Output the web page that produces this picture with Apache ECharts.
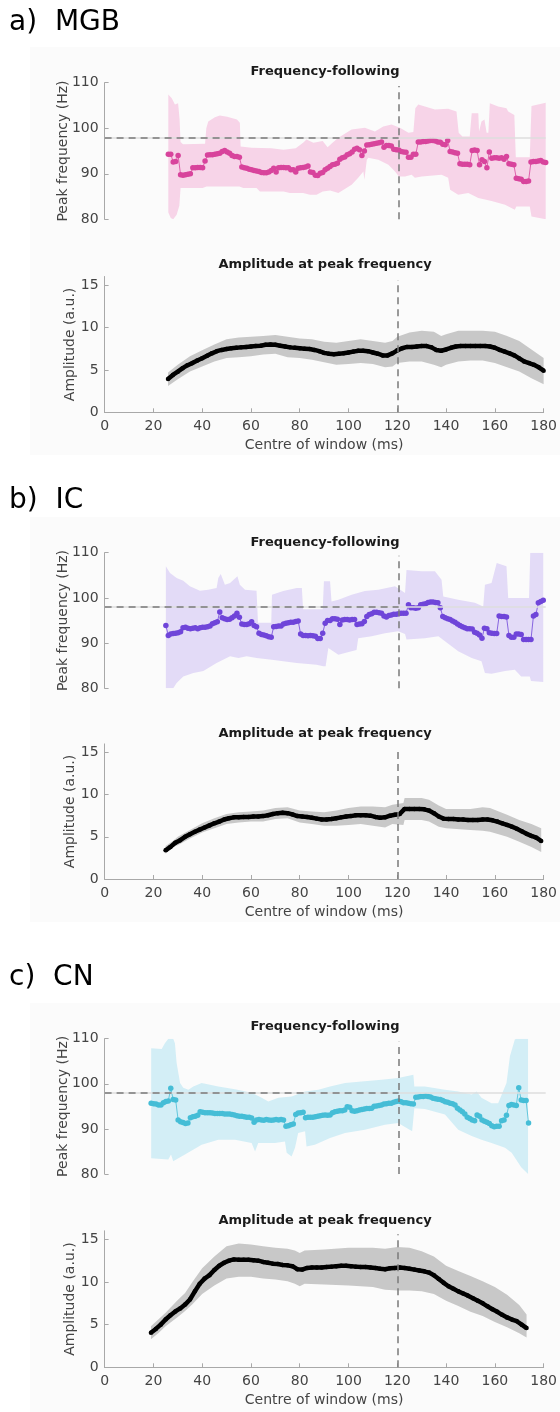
<!DOCTYPE html>
<html><head><meta charset="utf-8">
<script src="https://cdn.jsdelivr.net/npm/echarts@6/dist/echarts.min.js"></script>
<style>html,body{margin:0;padding:0;background:#fff}#c{width:560px;height:1412px}</style>
</head><body><div id="c"></div>
<script>
// ---------------- DATA ----------------
const xTickValues = [0, 20, 40, 60, 80, 100, 120, 140, 160, 180];
const freqTickValues = [80, 90, 100, 110];
const ampTickValues = [0, 5, 10, 15];
const referenceFreq = 98;     // Hz (horizontal dashed line)
const referenceTime = 120;    // ms (vertical dashed line)

// Frequency-following: peak frequency (Hz), one value per ms
const mgbFreqStart = 26;
const mgbFreq = [94.3,94.3,92.6,92.7,94.0,89.8,89.7,89.8,89.9,90.0,
91.3,91.3,91.4,91.4,91.3,92.8,94.1,94.2,94.2,94.3,
94.4,94.5,94.9,95.1,94.8,94.5,94.0,93.8,93.8,93.6,
91.5,91.3,91.2,91.0,90.9,90.7,90.6,90.5,90.3,90.2,
90.2,90.4,90.7,91.2,90.4,91.3,91.4,91.4,91.3,91.3,
90.9,90.9,90.4,91.2,91.3,91.4,91.5,91.7,90.4,90.3,
89.7,89.6,90.1,90.3,90.9,91.2,91.6,92.0,92.1,92.3,
93.2,93.5,93.7,94.2,94.4,94.8,95.4,95.6,95.3,94.0,
95.0,96.3,96.4,96.5,96.6,96.7,96.8,97.0,95.8,96.2,
96.2,96.1,95.4,95.3,95.2,94.9,94.8,94.7,93.6,93.6,
94.3,94.3,97.0,97.0,97.1,97.1,97.2,97.3,97.3,97.2,
97.0,96.9,96.5,96.4,97.3,94.9,94.8,94.6,94.5,92.2,
92.1,92.1,92.1,92.0,95.1,95.2,95.1,92.0,93.1,92.7,
91.3,94.8,93.4,93.5,93.5,93.4,93.5,93.2,93.8,92.2,
92.1,92.0,89.0,88.9,88.8,88.3,88.3,88.4,92.6,92.7,
92.7,92.8,92.9,92.6,92.5];
const mgbFreqHi = [[26,107.4],[27.4,106.6],[28.7,105.2],[30,105.5],[30.6,102],[31,97],[32,96.5],[41,96.6],[41.5,100],[42.3,101.5],[45,102.4],[47,102.8],[50,102.5],[54,101.9],[55.2,101.2],[55.5,96.0],[60,95.7],[68,95.6],[73,95.3],[78,95.6],[81,96.8],[82.4,97.5],[85.2,96.8],[89,97.2],[91,95.8],[93,96.8],[95.4,97.9],[100.8,99.7],[106.2,100.1],[110.3,99.3],[113.7,100.4],[117.1,100.8],[120.5,100.1],[124,99],[126,99.2],[126.8,104.4],[128,105.2],[134.8,104.1],[140.2,104.3],[143.6,103.7],[144.5,99],[146,98.2],[149,98.2],[149.8,103.3],[152.5,103.3],[152.8,99.3],[153.8,101.5],[155,101.9],[155.9,99],[156.6,99],[157.2,105.5],[160.6,104.8],[164,104.4],[164.7,103.7],[167.2,102.9],[167.8,93.6],[173.5,93.6],[174.2,104.9],[180,105.6]];
const mgbFreqLo = [[26,81.5],[27,80.3],[28,80],[29.4,81],[30.5,83],[31,86.9],[40,86.9],[41.6,87.2],[55,87.2],[56.6,86.9],[62,86.9],[63.4,86.1],[73,86.1],[75.6,85.8],[81,85.8],[83.8,85.4],[86.5,85.4],[89,86.1],[92,86.3],[95.4,85.8],[100.8,87.6],[103.5,89.1],[105.6,90.5],[106,88.7],[107,93.1],[107.6,93.5],[111.7,93.1],[115.8,92],[118.5,90.5],[120.1,89.4],[122.6,89.4],[125.3,89.8],[126.6,89.1],[129.4,89.4],[137.5,89.8],[140.2,89.1],[141,86.5],[144.3,85.4],[148.4,85.8],[152.5,84.7],[157.9,84],[163.4,83.2],[167.4,82.1],[168,82.8],[173.5,82.8],[174.2,80.6],[180,80]];

const icFreqStart = 25;
const icFreq = [93.9,91.7,92.0,92.1,92.2,92.3,92.5,93.4,93.5,93.3,
93.2,93.3,93.4,93.2,93.4,93.5,93.5,93.6,93.8,94.3,
94.5,94.7,96.9,95.6,95.4,95.2,95.3,95.6,96.0,96.6,
95.7,94.2,94.1,94.1,94.3,94.7,93.9,93.6,92.2,91.9,
91.8,91.6,91.4,91.3,93.6,93.7,93.8,93.8,94.2,94.4,
94.5,94.6,94.6,94.8,94.9,92.0,91.7,91.7,91.6,91.7,
91.6,91.5,91.0,91.0,92.2,94.4,95.0,95.0,95.4,95.4,
95.3,94.1,95.1,95.2,95.2,95.1,95.2,95.2,94.1,94.2,
94.3,94.8,95.9,96.3,96.5,96.8,96.8,96.7,96.6,96.0,
95.8,96.1,96.2,96.4,96.4,96.5,96.6,96.6,96.6,98.5,
97.8,97.8,97.7,97.8,98.5,98.6,98.7,99.0,99.1,99.1,
99.0,98.9,97.8,95.9,95.6,95.4,95.2,94.9,94.6,94.2,
93.9,93.6,93.4,93.2,93.2,93.1,92.4,92.2,91.8,91.1,
93.3,93.2,92.3,92.2,92.1,92.1,96.0,95.9,95.9,95.8,
91.7,91.3,91.3,92.0,92.0,91.9,90.8,90.8,90.8,90.8,
96.0,96.3,98.9,99.2,99.5];
const icFreqHi = [[25,107],[26.7,105.5],[29.4,104.4],[32.1,103.8],[34.8,102.6],[38.9,101.6],[42.3,101.8],[45.7,102.2],[46.4,104.4],[47.4,105.3],[49.1,102.9],[51.2,103.3],[54.2,104.8],[55.2,102.9],[57.3,101.8],[62,101.6],[62.6,94.5],[68,94.5],[68.3,100.7],[72.9,101.5],[78.4,102.2],[80.5,102.2],[81,97.5],[89,97.5],[89.5,103.7],[92,103.7],[92.6,99.2],[95.4,99.6],[100.8,100.7],[106.2,101.5],[111.7,101.8],[118.5,102.6],[122.6,101.1],[123.2,106.2],[129.4,105.9],[134.8,105.9],[137.5,104],[138.2,100.3],[144.3,99.6],[151.1,98.9],[154.5,98.1],[155.2,102.9],[157.9,103.3],[160,107.7],[164,107],[164.7,100],[167.4,100],[173.2,100],[173.7,110],[179,110]];
const icFreqLo = [[25,80],[28,80],[29.4,81.2],[32.1,82.6],[36.2,83.4],[40.3,83.8],[45.7,85.6],[51.2,87.1],[54.6,86.7],[58,87.1],[62,86.7],[68.2,86.3],[72.9,86],[78.4,85.6],[86.5,85.2],[89.2,84.9],[90.2,84.9],[91.3,88.9],[95.4,87.4],[100.8,88.2],[102.8,88.5],[103.5,91.1],[109,91.5],[114.4,92.2],[119.8,92.6],[122.6,92],[123.2,90.8],[130.7,91.1],[136.2,91.5],[138.9,90.4],[144.3,88.2],[149.8,86.7],[153.8,86],[155.2,83.4],[157.9,83.2],[163.4,83.8],[167.4,84.1],[170,82.6],[173.5,82.6],[174,81.6],[179,81.4]];

const cnFreqStart = 19;
const cnFreq = [95.7,95.6,95.5,95.3,95.3,95.8,96.1,96.2,99.0,96.5,
96.4,92.0,91.6,91.4,91.2,91.3,92.5,92.7,92.8,93.0,
93.8,93.7,93.6,93.6,93.6,93.5,93.4,93.4,93.4,93.4,
93.3,93.3,93.3,93.2,93.1,92.9,92.8,92.8,92.7,92.6,
92.6,92.4,91.5,92.0,92.1,92.0,91.9,92.1,92.0,91.9,
92.0,92.1,92.0,92.1,92.0,90.6,90.7,90.9,91.1,93.2,
93.5,93.6,93.7,92.5,92.6,92.6,92.6,92.7,92.8,92.9,
93.0,93.1,93.0,93.1,93.6,93.8,93.9,94.0,94.0,94.2,
94.9,94.8,94.0,93.9,94.0,94.2,94.3,94.4,94.5,94.5,
94.6,95.0,95.1,95.2,95.3,95.5,95.6,95.7,95.7,95.9,
96.1,96.2,96.0,95.8,95.8,95.7,95.6,95.5,97.0,97.1,
97.2,97.2,97.3,97.2,97.1,96.8,96.7,96.6,96.5,96.3,
96.0,95.9,95.7,95.6,95.3,94.6,94.2,93.8,93.3,92.6,
92.3,92.0,91.8,93.1,92.8,92.0,91.7,91.5,91.2,90.7,
90.5,90.6,90.6,91.8,92.0,93.0,95.2,95.4,95.3,95.2,
99.1,96.4,96.3,96.3,91.3];
const cnFreqHi = [[19,107.9],[23.3,107.7],[24.6,109],[26,110],[28,110],[28.7,109],[29.4,104.6],[30.8,100.2],[32.1,99.1],[34.2,98.7],[36.2,99.4],[39.6,100.2],[46.4,99.4],[53.2,98.8],[60,98],[64.1,96.9],[66.8,96.1],[70.9,96.9],[76.3,97.2],[81.8,98.3],[87.2,98.7],[92,99.4],[98.1,100.2],[104.9,100.5],[113,100.9],[119.8,101.3],[126,102],[126.4,99.4],[130.7,99.4],[138.9,98.7],[144.3,98.3],[149.8,97.6],[151.8,98.3],[153.8,96.9],[157.9,95.7],[160.6,95.7],[164,100.2],[165.4,106.1],[167.4,109.8],[168,110],[172.8,110]];
const cnFreqLo = [[19,83.5],[26,83.2],[27.1,84.3],[28,82.8],[30.1,83.5],[32.8,84.3],[39.6,86.5],[46.4,87.6],[53.2,87.6],[60,86.9],[61.4,85],[62.7,86.9],[69.5,86.9],[73.6,87.2],[74.3,84.7],[76.3,83.9],[77.7,85.8],[79,89.1],[81.8,89.5],[82.4,86.1],[85.8,86.5],[92,88],[98.1,89.1],[106.2,89.8],[114.4,90.9],[119.8,91.3],[125.5,89.5],[126.4,94.6],[130.7,94.4],[138.9,93.2],[144.3,89.8],[149.8,88.4],[153.8,87.6],[157.9,86.9],[163.4,85.8],[166.1,84.7],[170,81.5],[172.8,80]];

// Amplitude at peak frequency (a.u.), one value every 2 ms
const mgbAmpStart = 26;
const mgbAmp = [3.93,4.4,4.79,5.2,5.55,5.8,6.1,6.36,6.65,6.95,
7.2,7.35,7.45,7.55,7.6,7.65,7.7,7.75,7.8,7.85,
7.95,8.0,7.95,7.85,7.75,7.65,7.6,7.55,7.5,7.45,
7.35,7.2,7.0,6.9,6.85,6.9,6.95,7.05,7.15,7.25,
7.25,7.2,7.05,6.9,6.7,6.7,6.95,7.3,7.55,7.7,
7.7,7.75,7.8,7.8,7.65,7.35,7.25,7.4,7.6,7.75,
7.8,7.8,7.8,7.8,7.8,7.8,7.75,7.6,7.35,7.15,
6.95,6.7,6.35,6.0,5.8,5.6,5.3,4.9];
const mgbAmpHi = [[26,4.7],[30,5.6],[35,6.6],[40,7.3],[45,8.0],[50,8.6],[55,8.8],[60,8.9],[65,9.0],[70,9.1],[75,8.9],[80,8.7],[85,8.6],[90,8.3],[95,8.2],[100,8.4],[105,8.6],[110,8.4],[115,8.2],[118,8.4],[120,8.9],[125,9.4],[130,9.6],[135,9.5],[138,9.0],[140,9.2],[145,9.6],[150,9.6],[155,9.6],[160,9.5],[165,9.0],[170,8.4],[175,7.4],[180,6.4]];
const mgbAmpLo = [[26,3.1],[30,3.9],[35,4.8],[40,5.4],[45,6.0],[50,6.4],[55,6.5],[60,6.6],[65,6.8],[70,6.9],[75,6.5],[80,6.4],[85,6.2],[90,5.9],[95,5.6],[100,5.7],[105,5.8],[110,5.7],[115,5.3],[118,5.4],[120,5.8],[125,6.0],[130,6.0],[135,5.6],[138,5.3],[140,5.6],[145,6.0],[150,6.1],[155,6.1],[160,5.8],[165,5.3],[170,4.8],[175,4.0],[180,3.3]];

const icAmpStart = 25;
const icAmp = [3.4,3.8,4.3,4.6,5.0,5.3,5.6,5.85,6.1,6.35,
6.6,6.8,7.05,7.2,7.3,7.3,7.35,7.35,7.4,7.4,
7.45,7.55,7.7,7.8,7.85,7.8,7.65,7.45,7.4,7.35,
7.25,7.15,7.05,7.05,7.1,7.2,7.3,7.4,7.45,7.55,
7.55,7.55,7.5,7.35,7.25,7.3,7.5,7.6,7.7,8.3,
8.3,8.3,8.3,8.25,8.1,7.8,7.4,7.15,7.1,7.1,
7.05,7.05,7.0,7.0,7.0,7.05,7.05,6.95,6.8,6.6,
6.4,6.2,5.95,5.65,5.35,5.1,4.9,4.5];
const icAmpHi = [[25,3.9],[28,4.5],[30,5.0],[35,5.8],[40,6.6],[45,7.2],[50,7.7],[55,7.9],[60,8.0],[65,8.1],[70,8.4],[75,8.5],[80,8.1],[85,8.0],[90,7.9],[95,8.1],[100,8.4],[105,8.6],[110,8.6],[115,8.5],[118,8.8],[122.5,9.0],[123,9.6],[130,9.6],[133,9.4],[137,8.7],[140,8.3],[150,8.3],[155,8.5],[158,8.4],[165,7.6],[170,7.0],[175,6.5],[179,6.0]];
const icAmpLo = [[25,3.0],[28,3.8],[30,4.0],[35,4.8],[40,5.5],[45,6.0],[50,6.5],[55,6.7],[60,6.8],[65,6.8],[70,7.1],[75,7.2],[80,6.7],[85,6.5],[90,6.3],[95,6.3],[100,6.4],[105,6.5],[110,6.3],[115,6.1],[118,6.5],[122.5,6.4],[123,7.0],[130,7.0],[133,6.8],[137,6.2],[140,6.0],[150,5.8],[155,5.7],[158,5.6],[165,5.0],[170,4.4],[175,3.8],[179,3.2]];

const cnAmpStart = 19;
const cnAmp = [4.06,4.5,5.0,5.6,6.1,6.55,6.9,7.35,7.95,8.9,
9.8,10.4,10.8,11.4,11.9,12.25,12.5,12.65,12.6,12.6,
12.6,12.55,12.5,12.35,12.25,12.15,12.1,12.0,11.95,11.85,
11.5,11.45,11.65,11.7,11.7,11.7,11.75,11.8,11.85,11.9,
11.9,11.85,11.8,11.75,11.75,11.7,11.65,11.55,11.5,11.6,
11.65,11.7,11.65,11.55,11.45,11.35,11.25,11.1,10.8,10.35,
9.9,9.5,9.2,8.9,8.65,8.4,8.1,7.8,7.5,7.15,
6.8,6.5,6.15,5.85,5.6,5.4,5.0,4.6];
const cnAmpHi = [[19,4.8],[22,5.6],[25,6.4],[30,7.9],[33,8.7],[36,10.0],[40,11.6],[45,13.0],[50,14.2],[55,14.5],[60,14.4],[65,14.2],[70,14.0],[75,13.9],[78,13.7],[80,13.4],[82,13.7],[90,13.8],[100,14.0],[110,14.0],[115,13.9],[120,14.1],[125,14.0],[130,13.6],[135,13.0],[140,11.9],[145,11.3],[150,10.7],[155,10.1],[160,9.4],[165,8.5],[170,7.3],[173,6.2]];
const cnAmpLo = [[19,3.3],[22,4.0],[25,4.8],[30,5.9],[33,6.6],[36,7.4],[40,8.6],[45,9.6],[50,10.4],[55,10.6],[60,10.6],[65,10.4],[70,10.3],[75,10.1],[78,9.8],[80,9.5],[82,9.8],[90,9.7],[100,9.6],[110,9.4],[115,9.1],[120,9.0],[125,9.0],[130,8.9],[135,8.6],[140,7.8],[145,7.2],[150,6.5],[155,6.0],[160,5.3],[165,4.7],[170,4.0],[173,3.5]];

const panelLabels = ['a)  MGB', 'b)  IC', 'c)  CN'];
const freqTitle = 'Frequency-following';
const ampTitle = 'Amplitude at peak frequency';
const freqAxisName = 'Peak frequency (Hz)';
const ampAxisName = 'Amplitude (a.u.)';
const xAxisName = 'Centre of window (ms)';

// ---------------- LAYOUT / STYLE ----------------
const FONT = '"DejaVu Sans", "Liberation Sans", sans-serif';
const AXIS_GREY = '#a8a8a8';
const TEXT_GREY = '#444444';
const GRID_LEFT = 104.6, GRID_W = 441.1;

const panels = [
  {label: panelLabels[0], labelY: 23, bg: [47, 408], freqTop: 82.7, freqH: 136.6, ampTop: 276.5, ampH: 135.8, fTitleY: 72, aTitleY: 264.5,
   dot: '#d8449c', band: '#f7d4e8',
   freq: mgbFreq, freqStart: mgbFreqStart, hi: mgbFreqHi, lo: mgbFreqLo, amp: mgbAmp, ampStart: mgbAmpStart, ampHi: mgbAmpHi, ampLo: mgbAmpLo},
  {label: panelLabels[1], labelY: 500.5, bg: [517, 405], freqTop: 552.7, freqH: 135.6, ampTop: 743.9, ampH: 135.1, fTitleY: 542.7, aTitleY: 734,
   dot: '#6f45d9', band: '#e3dbf7',
   freq: icFreq, freqStart: icFreqStart, hi: icFreqHi, lo: icFreqLo, amp: icAmp, ampStart: icAmpStart, ampHi: icAmpHi, ampLo: icAmpLo},
  {label: panelLabels[2], labelY: 978, bg: [1003, 409], freqTop: 1038.7, freqH: 135.3, ampTop: 1230.8, ampH: 136.5, fTitleY: 1027, aTitleY: 1220.7,
   dot: '#45bdd6', band: '#d3eef6',
   freq: cnFreq, freqStart: cnFreqStart, hi: cnFreqHi, lo: cnFreqLo, amp: cnAmp, ampStart: cnAmpStart, ampHi: cnAmpHi, ampLo: cnAmpLo}
];

const grids = [], xAxes = [], yAxes = [], series = [], graphics = [];

function bandSeries(idx, hi, lo, fill) {
  return {
    type: 'custom', xAxisIndex: idx, yAxisIndex: idx, silent: true, clip: true, z: 1,
    data: [hi[0]],
    renderItem: function (params, api) {
      const pts = hi.map(p => api.coord(p)).concat(lo.slice().reverse().map(p => api.coord(p)));
      return {type: 'polygon', shape: {points: pts}, style: {fill: fill}};
    }
  };
}

const tickStyle = {show: true, inside: true, length: 4, lineStyle: {color: AXIS_GREY, width: 1}};
const labelStyle = {color: TEXT_GREY, fontSize: 14, fontFamily: FONT};
const nameStyle = {color: TEXT_GREY, fontSize: 14, fontFamily: FONT};

panels.forEach((p, k) => {
  const fi = 2 * k, ai = 2 * k + 1;
  grids.push({left: GRID_LEFT, width: GRID_W, top: p.freqTop, height: p.freqH});
  grids.push({left: GRID_LEFT, width: GRID_W, top: p.ampTop, height: p.ampH});

  xAxes.push({gridIndex: fi, type: 'value', min: 0, max: 180, interval: 20, show: false, splitLine: {show: false}});
  xAxes.push({gridIndex: ai, type: 'value', min: 0, max: 180, interval: 20,
    axisLine: {show: true, lineStyle: {color: AXIS_GREY, width: 1}},
    axisTick: tickStyle, splitLine: {show: false},
    axisLabel: Object.assign({margin: 7, customValues: xTickValues}, labelStyle),
    name: xAxisName, nameLocation: 'middle', nameGap: 26, nameMoveOverlap: false,
    nameTextStyle: nameStyle});

  yAxes.push({gridIndex: fi, type: 'value', min: 80, max: 110, interval: 10,
    axisLine: {show: true, lineStyle: {color: AXIS_GREY, width: 1}},
    axisTick: Object.assign({customValues: freqTickValues}, tickStyle), splitLine: {show: false},
    axisLabel: Object.assign({margin: 6, customValues: freqTickValues}, labelStyle),
    name: freqAxisName, nameLocation: 'middle', nameGap: 34, nameMoveOverlap: false,
    nameTextStyle: nameStyle});
  yAxes.push({gridIndex: ai, type: 'value', min: 0, max: 16,
    axisLine: {show: true, lineStyle: {color: AXIS_GREY, width: 1}},
    axisTick: Object.assign({customValues: ampTickValues}, tickStyle), splitLine: {show: false},
    axisLabel: Object.assign({margin: 6, customValues: ampTickValues}, labelStyle),
    name: ampAxisName, nameLocation: 'middle', nameGap: 27.5, nameMoveOverlap: false,
    nameTextStyle: nameStyle});

  // frequency panel
  series.push(bandSeries(fi, p.hi, p.lo, p.band));
  series.push({type: 'line', xAxisIndex: fi, yAxisIndex: fi, data: [], silent: true, z: 2,
    markLine: {silent: true, symbol: ['none', 'none'], label: {show: false}, animation: false,
      data: [
        [{coord: [0, referenceFreq], lineStyle: {color: '#dedede', width: 1.5, type: 'solid'}}, {coord: [180, referenceFreq]}],
        [{coord: [0, referenceFreq], lineStyle: {color: '#7a7a7a', width: 1.5, type: [7, 5]}}, {coord: [referenceTime, referenceFreq]}],
        [{coord: [referenceTime, 80], lineStyle: {color: '#7a7a7a', width: 1.5, type: [7, 5]}}, {coord: [referenceTime, 109.3]}]
      ]}});
  series.push({type: 'line', xAxisIndex: fi, yAxisIndex: fi, z: 3, silent: true, animation: false,
    data: p.freq.map((v, i) => [p.freqStart + i, v]),
    symbol: 'circle', symbolSize: 5.5, showSymbol: true,
    lineStyle: {color: p.dot, width: 0.8}, itemStyle: {color: p.dot}});

  // amplitude panel
  series.push(bandSeries(ai, p.ampHi, p.ampLo, '#c8c8c8'));
  series.push({type: 'line', xAxisIndex: ai, yAxisIndex: ai, data: [], silent: true, z: 2,
    markLine: {silent: true, symbol: ['none', 'none'], label: {show: false}, animation: false,
      data: [[{coord: [referenceTime, 0], lineStyle: {color: '#7a7a7a', width: 1.5, type: [7, 5]}}, {coord: [referenceTime, 15.6]}]]}});
  series.push({type: 'line', xAxisIndex: ai, yAxisIndex: ai, z: 3, silent: true, animation: false,
    data: p.amp.map((v, i) => [p.ampStart + 2 * i, v]),
    symbol: 'circle', symbolSize: 4.5, showSymbol: true,
    lineStyle: {color: '#000', width: 4.5}, itemStyle: {color: '#000'}});

  // background, labels, titles
  graphics.push({type: 'rect', z: -10, silent: true, shape: {x: 30, y: p.bg[0], width: 530, height: p.bg[1]}, style: {fill: '#fbfbfb'}});
  graphics.push({type: 'text', x: 9, y: p.labelY, silent: true,
    style: {text: p.label, fontSize: 28, fontFamily: FONT, fill: '#000', verticalAlign: 'middle'}});
  graphics.push({type: 'text', x: 325, y: p.fTitleY, silent: true,
    style: {text: freqTitle, fontSize: 13, fontWeight: 'bold', fontFamily: FONT, fill: '#1a1a1a', align: 'center', verticalAlign: 'middle'}});
  graphics.push({type: 'text', x: 325, y: p.aTitleY, silent: true,
    style: {text: ampTitle, fontSize: 13, fontWeight: 'bold', fontFamily: FONT, fill: '#1a1a1a', align: 'center', verticalAlign: 'middle'}});
});

const chart = echarts.init(document.getElementById('c'), null, {renderer: 'canvas'});
chart.setOption({
  animation: false,
  backgroundColor: '#ffffff',
  grid: grids, xAxis: xAxes, yAxis: yAxes, series: series,
  graphic: {elements: graphics}
});
</script></body></html>
